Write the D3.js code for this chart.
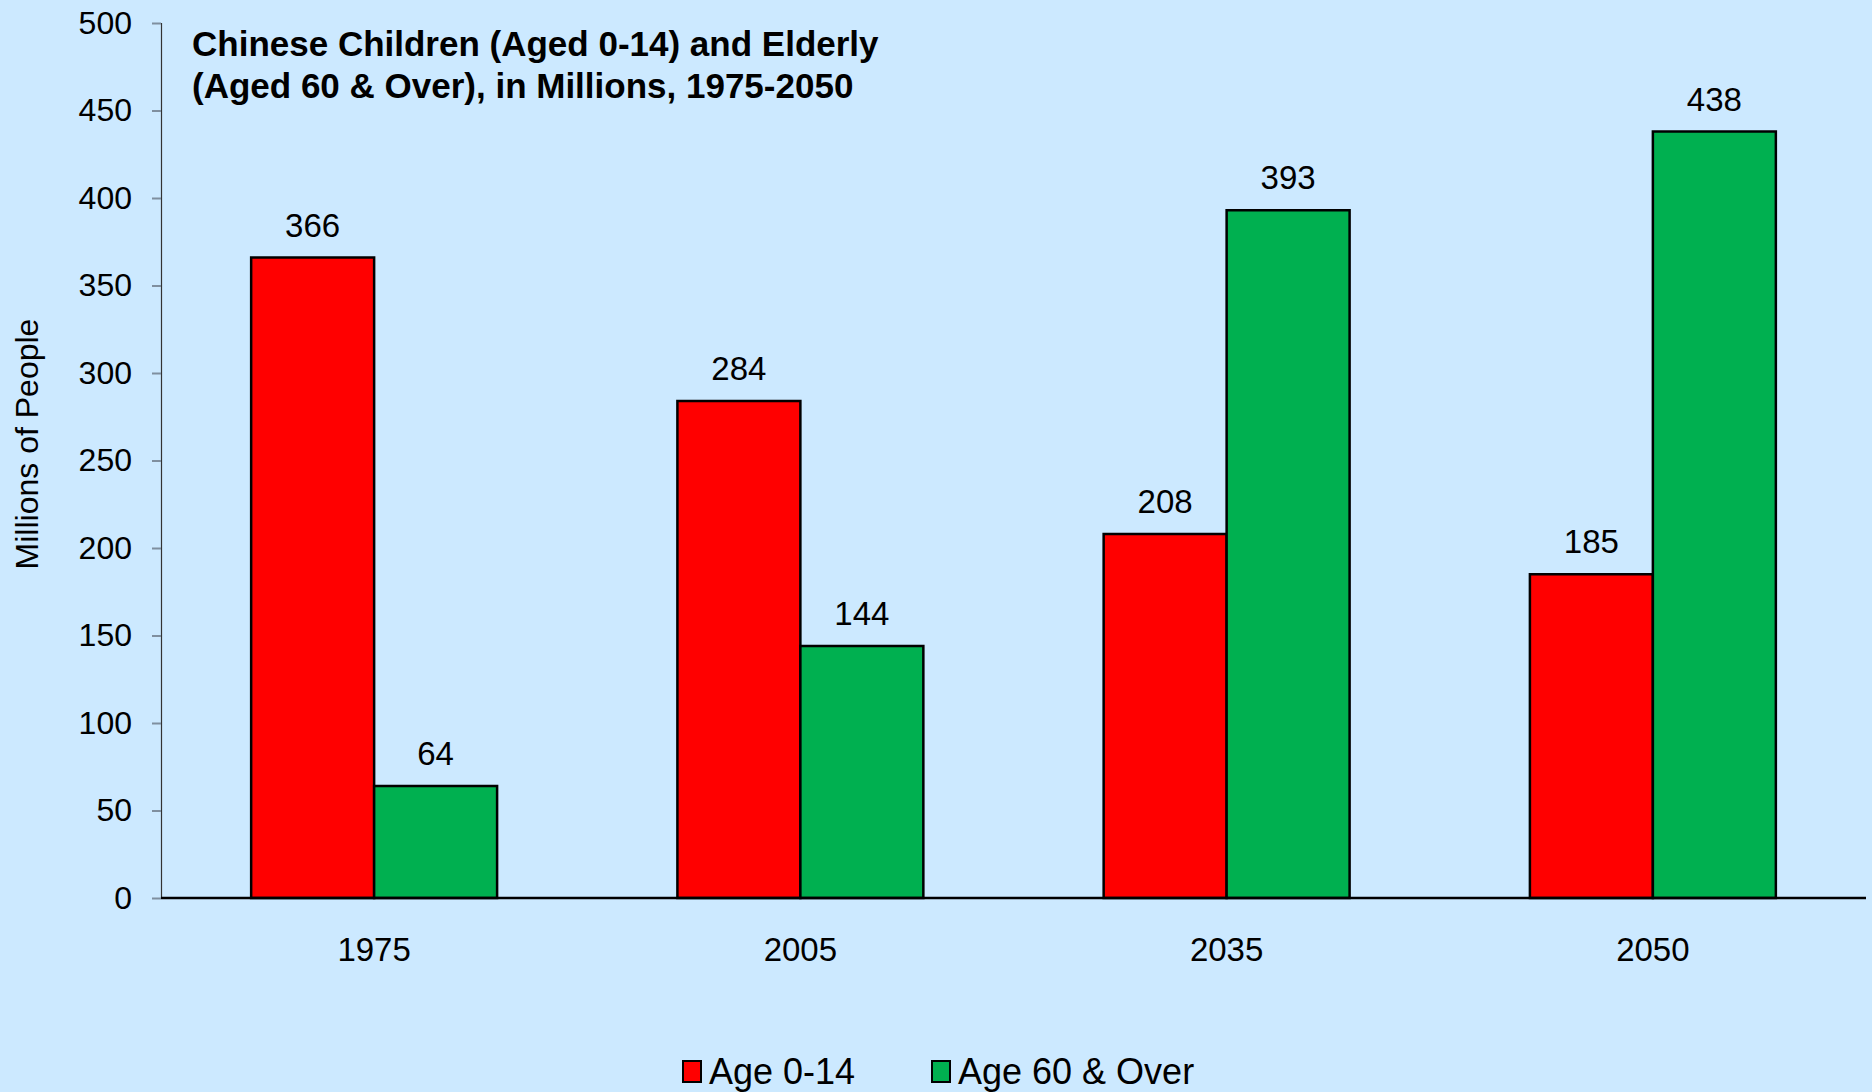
<!DOCTYPE html>
<html>
<head>
<meta charset="utf-8">
<script src="https://cdn.jsdelivr.net/npm/d3@7"></script>
<style>
	body { margin: 0; background: #cce9ff; }
	svg { display: block; font-family: "Liberation Sans", Arial, sans-serif; }
</style>
</head>
<body>
<div id="chart"></div>
<script>
// data
let years = ["1975", "2005", "2035", "2050"];
let series_names = ["Age 0-14", "Age 60 & Over"];
let children = [366, 284, 208, 185];
let elderly = [64, 144, 393, 438];
let y_ticks = [0, 50, 100, 150, 200, 250, 300, 350, 400, 450, 500];
let title_lines = ["Chinese Children (Aged 0-14) and Elderly", "(Aged 60 & Over), in Millions, 1975-2050"];
let colors = ["#ff0000", "#00b050"];

function chart() {
	let W = 1872, H = 1092;
	let margin = {top: 23, right: 6, bottom: 194, left: 161},
		width = W - margin.left - margin.right,
		height = H - margin.top - margin.bottom;

	let svg = d3.select("#chart").append("svg")
		.attr("width", W)
		.attr("height", H);

	svg.append("rect").attr("width", W).attr("height", H).attr("fill", "#cce9ff");

	let plot = svg.append("g")
		.attr("transform", "translate(" + margin.left + "," + margin.top + ")");

	let data = years.map(function (y, i) {
		return {year: y, values: [children[i], elderly[i]]};
	});

	let x0 = d3.scaleBand()
		.domain(years)
		.range([0, width])
		.paddingInner(0.423)
		.paddingOuter(0.2115);

	let x1 = d3.scaleBand()
		.domain([0, 1])
		.range([0, x0.bandwidth()]);

	let y = d3.scaleLinear()
		.domain([0, 500])
		.range([height, 0]);

	// y axis
	let yAxis = plot.append("g")
		.call(d3.axisLeft(y).tickValues(y_ticks).tickSize(9).tickPadding(20));
	yAxis.select(".domain").attr("stroke", "#333").attr("stroke-width", 1.2);
	yAxis.selectAll(".tick line").attr("stroke", "#7f8f9f").attr("stroke-width", 2);
	yAxis.selectAll("text").attr("font-size", 32).attr("fill", "#000")
		.attr("font-family", "Liberation Sans, Arial, sans-serif");

	// bars
	let groups = plot.selectAll(".grp")
		.data(data)
		.enter().append("g")
		.attr("class", "grp")
		.attr("transform", function (d) { return "translate(" + x0(d.year) + ",0)"; });

	groups.selectAll("rect")
		.data(function (d) { return d.values; })
		.enter().append("rect")
		.attr("x", function (d, i) { return x1(i); })
		.attr("y", function (d) { return y(d); })
		.attr("width", x1.bandwidth())
		.attr("height", function (d) { return height - y(d); })
		.attr("fill", function (d, i) { return colors[i]; })
		.attr("stroke", "#000")
		.attr("stroke-width", 2.5);

	groups.selectAll(".lbl")
		.data(function (d) { return d.values; })
		.enter().append("text")
		.attr("class", "lbl")
		.attr("x", function (d, i) { return x1(i) + x1.bandwidth() / 2; })
		.attr("y", function (d) { return y(d) - 21; })
		.attr("text-anchor", "middle")
		.attr("font-size", 33)
		.text(function (d) { return d; });

	// x axis
	plot.append("line")
		.attr("x1", 0).attr("x2", width)
		.attr("y1", height).attr("y2", height)
		.attr("stroke", "#000").attr("stroke-width", 2.5);

	plot.selectAll(".xlbl")
		.data(years)
		.enter().append("text")
		.attr("class", "xlbl")
		.attr("x", function (d) { return x0(d) + x0.bandwidth() / 2; })
		.attr("y", height + 63)
		.attr("text-anchor", "middle")
		.attr("font-size", 33)
		.text(function (d) { return d; });

	// title
	svg.append("g").selectAll("text")
		.data(title_lines)
		.enter().append("text")
		.attr("x", 192)
		.attr("y", function (d, i) { return 56 + i * 42; })
		.attr("font-size", 35)
		.attr("font-weight", "bold")
		.text(function (d) { return d; });

	// y axis title
	svg.append("text")
		.attr("transform", "translate(38,444) rotate(-90)")
		.attr("text-anchor", "middle")
		.attr("font-size", 32)
		.text("Millions of People");

	// legend
	let legend_x = [683, 932];
	let legend = svg.append("g").selectAll("g")
		.data(series_names)
		.enter().append("g")
		.attr("transform", function (d, i) { return "translate(" + legend_x[i] + ",1061)"; });
	legend.append("rect")
		.attr("width", 18).attr("height", 21)
		.attr("fill", function (d, i) { return colors[i]; })
		.attr("stroke", "#000").attr("stroke-width", 2);
	legend.append("text")
		.attr("x", 26).attr("y", 23)
		.attr("font-size", 36)
		.text(function (d) { return d; });
}

chart();
</script>
</body>
</html>
